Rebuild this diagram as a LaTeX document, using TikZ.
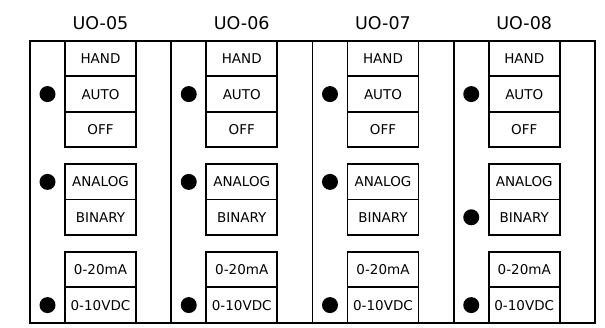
\documentclass[tikz,border=0pt]{standalone}
\usepackage{fontspec}
\setmainfont{DejaVu Sans}
\usetikzlibrary{positioning}
\tikzset{
  panel/.style={rectangle, draw=black, line width=1.8pt, outer sep=0pt,
                minimum width=141.25pt, minimum height=281.8pt, inner sep=0pt},
  sel/.style={rectangle, draw=black, line width=1.8pt, outer sep=0pt, inner sep=0pt,
              minimum width=71pt, minimum height=35.4pt, font=\fontsize{13.5}{16}\selectfont},
  led/.style={circle, fill=black, inner sep=0pt, outer sep=0pt, minimum size=16pt},
  ttl/.style={inner sep=0pt, font=\fontsize{17.5}{20}\selectfont}
}
\begin{document}
\begin{tikzpicture}[x=1pt,y=-1pt]
\useasboundingbox (0,0) rectangle (605,328);
\foreach \i/\n/\m in {0/05/anlg,1/06/anlg,2/07/anlg,3/08/bin}{
  % ---- panel for one output ----
  \node[panel, anchor=north west] (col\n) at (30+141.25*\i,41) {};
  \node[sel, anchor=north west] (hand\n) at (65+141.25*\i,41) {HAND};
  \node[sel, below=0pt of hand\n] (auto\n) {AUTO};
  \node[sel, below=0pt of auto\n] (off\n) {OFF};
  \node[sel, below=17pt of off\n] (anlg\n) {ANALOG};
  \node[sel, below=0pt of anlg\n] (bin\n) {BINARY};
  \node[sel, below=17pt of bin\n] (ma\n) {0-20mA};
  \node[sel, below=0pt of ma\n] (vdc\n) {0-10VDC};
  \node[ttl, anchor=base, above=11pt of hand\n.north] (t\n) {UO-\n};
  % ---- indicator dots ----
  \node[led, left=9.5pt of auto\n] (da\n) {};
  \node[led, left=9.5pt of \m\n] (dm\n) {};
  \node[led, left=9.5pt of vdc\n] (dv\n) {};
}
\end{tikzpicture}
\end{document}
